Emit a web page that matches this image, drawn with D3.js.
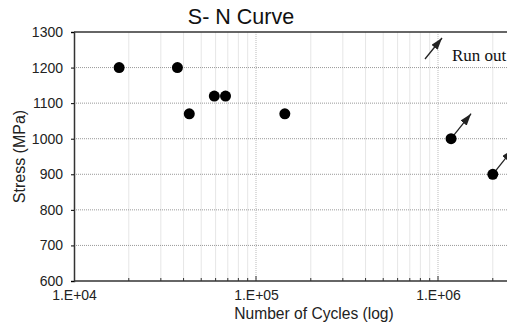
<!DOCTYPE html>
<html>
<head>
<meta charset="utf-8">
<script src="https://cdn.jsdelivr.net/npm/d3@7"></script>
<style>
  html, body { margin: 0; padding: 0; background: #fff; overflow: hidden; }
  svg { display: block; font-family: "Liberation Sans", Arial, sans-serif; }
</style>
</head>
<body>
<div id="chart"></div>
<script>
// fatigue test results
const cycles = [17700, 37000, 43000, 59000, 68000, 144000, 1180000, 2000000];
const stress = [1200, 1200, 1070, 1120, 1120, 1070, 1000, 900];
const runOut = [false, false, false, false, false, false, true, true];

const yTicks = [600, 700, 800, 900, 1000, 1100, 1200, 1300];
const xTicks = [1e4, 1e5, 1e6];
const xTickLabels = ["1.E+04", "1.E+05", "1.E+06"];

const width = 507, height = 329;
const margin = { top: 32, left: 74, bottom: 48 };
const sans = "Liberation Sans, Arial, sans-serif";

const svg = d3.select("#chart").append("svg")
  .attr("width", width)
  .attr("height", height);

// plot runs off the right edge of the picture (to 1E+07)
const x = d3.scaleLog().domain([1e4, 1e7]).range([margin.left, margin.left + 546]);
const y = d3.scaleLinear().domain([600, 1300]).range([height - margin.bottom, margin.top]);

svg.append("defs").append("marker")
  .attr("id", "head")
  .attr("viewBox", "0 0 12 8")
  .attr("refX", 12).attr("refY", 4)
  .attr("markerWidth", 12).attr("markerHeight", 8)
  .attr("markerUnits", "userSpaceOnUse")
  .attr("orient", "auto")
  .append("path")
  .attr("d", "M0,0 L12,4 L0,8 Z")
  .attr("fill", "#222");

// minor vertical grid (2..9 per decade)
const minor = [];
for (let d = 1e4; d < 1e7; d *= 10) {
  for (let k = 2; k <= 9; k++) minor.push(d * k);
}
svg.append("g").selectAll("line")
  .data(minor)
  .join("line")
  .attr("x1", d => x(d)).attr("x2", d => x(d))
  .attr("y1", y(600)).attr("y2", y(1300))
  .attr("stroke", "#e6e6e6")
  .attr("stroke-width", 1);

// major vertical grid
svg.append("g").selectAll("line")
  .data(xTicks.slice(1))
  .join("line")
  .attr("x1", d => x(d)).attr("x2", d => x(d))
  .attr("y1", y(600)).attr("y2", y(1300))
  .attr("stroke", "#bbb")
  .attr("stroke-dasharray", "1,1");

// horizontal grid
svg.append("g").selectAll("line")
  .data(yTicks.slice(1, -1))
  .join("line")
  .attr("x1", x(1e4)).attr("x2", width)
  .attr("y1", d => y(d)).attr("y2", d => y(d))
  .attr("stroke", "#999")
  .attr("stroke-dasharray", "1,1");

// axes
const yAxis = svg.append("g")
  .attr("transform", `translate(${margin.left},0)`)
  .call(d3.axisLeft(y).tickValues(yTicks).tickFormat(d3.format("d"))
    .tickSize(3).tickPadding(8));
yAxis.select(".domain").attr("stroke", "#333").attr("stroke-width", 1.5);
yAxis.selectAll("text").attr("font-size", 14).attr("fill", "#222")
  .attr("font-family", sans);

const xAxis = svg.append("g")
  .attr("transform", `translate(0,${y(600)})`)
  .call(d3.axisBottom(x).tickValues(xTicks).tickFormat((d, i) => xTickLabels[i])
    .tickSize(0).tickPadding(9));
xAxis.select(".domain").remove();
xAxis.selectAll("text").attr("font-size", 14).attr("fill", "#222")
  .attr("font-family", sans);

// bottom axis line + small inward ticks
svg.append("line")
  .attr("x1", x(1e4)).attr("x2", width)
  .attr("y1", y(600)).attr("y2", y(600))
  .attr("stroke", "#333").attr("stroke-width", 1.5);
svg.append("g").selectAll("line")
  .data(minor.concat(xTicks.slice(1)))
  .join("line")
  .attr("x1", d => x(d)).attr("x2", d => x(d))
  .attr("y1", y(600)).attr("y2", d => y(600) - (xTicks.includes(d) ? 5 : 3))
  .attr("stroke", "#333");

// top border
svg.append("line")
  .attr("x1", x(1e4)).attr("x2", width)
  .attr("y1", y(1300)).attr("y2", y(1300))
  .attr("stroke", "#333").attr("stroke-width", 1.5);

// run-out arrows
svg.append("g").selectAll("line")
  .data(cycles.map((c, i) => ({ c, s: stress[i], r: runOut[i] })).filter(d => d.r))
  .join("line")
  .attr("x1", d => x(d.c)).attr("y1", d => y(d.s))
  .attr("x2", d => x(d.c) + 20).attr("y2", d => y(d.s) - 25)
  .attr("stroke", "#222").attr("stroke-width", 1.3)
  .attr("marker-end", "url(#head)");

// data points
svg.append("g").selectAll("circle")
  .data(cycles)
  .join("circle")
  .attr("cx", d => x(d))
  .attr("cy", (d, i) => y(stress[i]))
  .attr("r", 5.5)
  .attr("fill", "#000");

// run-out legend note
svg.append("line")
  .attr("x1", 425).attr("y1", 59).attr("x2", 442).attr("y2", 38)
  .attr("stroke", "#222").attr("stroke-width", 1.3)
  .attr("marker-end", "url(#head)");
svg.append("text")
  .attr("x", 452).attr("y", 61)
  .attr("font-family", "Liberation Serif, Times New Roman, serif")
  .attr("font-size", 17).attr("fill", "#111")
  .text("Run out");

// titles
svg.append("text")
  .attr("x", 241).attr("y", 24)
  .attr("text-anchor", "middle")
  .attr("font-size", 21.5).attr("fill", "#111")
  .text("S- N Curve");

svg.append("text")
  .attr("x", 314).attr("y", 319)
  .attr("text-anchor", "middle")
  .attr("font-size", 15.6).attr("fill", "#222")
  .text("Number of Cycles (log)");

svg.append("text")
  .attr("transform", `translate(25,${(y(600) + y(1300)) / 2}) rotate(-90)`)
  .attr("text-anchor", "middle")
  .attr("font-size", 16).attr("fill", "#222")
  .text("Stress (MPa)");
</script>
</body>
</html>
